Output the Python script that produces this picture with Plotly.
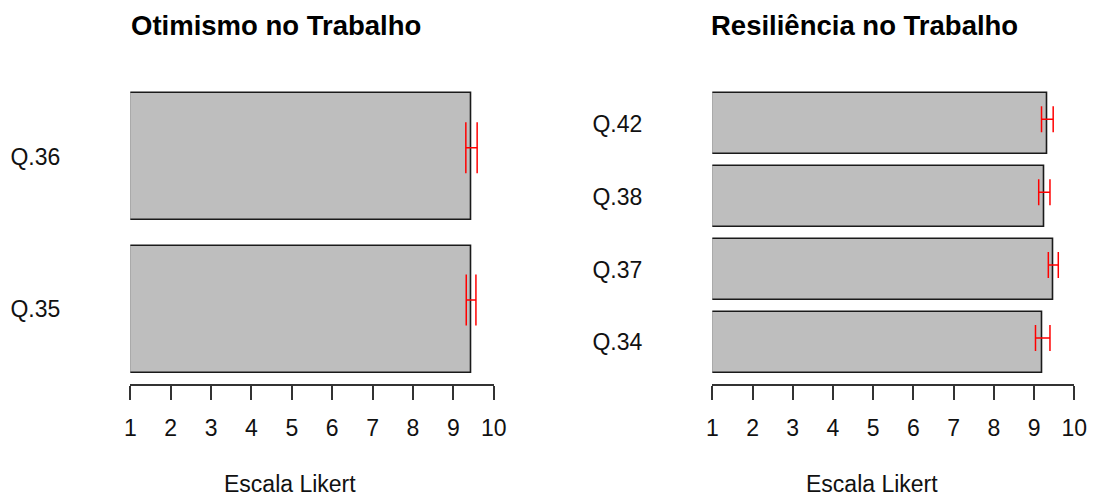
import plotly.graph_objects as go

# Otimismo no Trabalho (bottom to top)
otim_items = ["Q.35", "Q.36"]
otim_mean = [9.44, 9.45]
otim_err = [0.12, 0.14]

# Resiliência no Trabalho (bottom to top)
resil_items = ["Q.34", "Q.37", "Q.38", "Q.42"]
resil_mean = [9.215, 9.478, 9.255, 9.33]
resil_err = [0.18, 0.124, 0.14, 0.145]

likert_ticks = list(range(1, 11))

FONT = "Liberation Sans, Arial, sans-serif"
BAR_FILL = "#bebebe"
BAR_EDGE = "#1a1a1a"
ERR_COLOR = "#ff0000"
W, H = 1094, 498


def bar_positions(n):
    # barplot layout: width 1, space 0.2
    return [0.7 + 1.2 * i for i in range(n)]


def px_x(p):
    return p / W


def px_y(p):
    return 1 - p / H


fig = go.Figure()

panels = [
    (otim_items, otim_mean, otim_err, "x", "y", 25.5),
    (resil_items, resil_mean, resil_err, "x2", "y2", 13),
]

for items, means, errs, xa, ya, capw in panels:
    pos = bar_positions(len(items))
    fig.add_trace(go.Bar(
        y=pos, x=[m - 1 for m in means], base=1, orientation="h", width=1,
        marker=dict(color=BAR_FILL, line=dict(color=BAR_EDGE, width=1.6)),
        xaxis=xa, yaxis=ya, showlegend=False, hoverinfo="skip",
    ))
    fig.add_trace(go.Scatter(
        x=means, y=[p + 0.072 for p in pos], mode="markers",
        marker=dict(size=0.1, color=ERR_COLOR, opacity=0),
        error_x=dict(type="data", array=errs, symmetric=True,
                     color=ERR_COLOR, thickness=1.5, width=capw),
        xaxis=xa, yaxis=ya, showlegend=False, hoverinfo="skip",
    ))

xaxis_common = dict(
    range=[1, 10], tickmode="array", tickvals=likert_ticks,
    ticktext=[str(t) for t in likert_ticks],
    showgrid=False, zeroline=False, showline=True, linecolor="#333333",
    linewidth=1.5, ticks="outside", ticklen=14, tickwidth=1.5,
    tickcolor="#333333", tickfont=dict(family=FONT, size=23, color="#111111"),
    ticklabelstandoff=9, automargin=False,
)
yaxis_common = dict(
    showgrid=False, zeroline=False, showline=False, ticks="",
    tickfont=dict(family=FONT, size=23, color="#111111"),
    ticklabelstandoff=69, automargin=False,
)

ydom = [px_y(383.9), px_y(82.1)]

fig.update_layout(
    width=W, height=H,
    margin=dict(l=0, r=0, t=0, b=0, autoexpand=False),
    paper_bgcolor="white", plot_bgcolor="white",
    font=dict(family=FONT, color="#111111"),
    xaxis=dict(xaxis_common, domain=[px_x(130.3), px_x(493.7)], anchor="y"),
    xaxis2=dict(xaxis_common, domain=[px_x(712.3), px_x(1074.3)], anchor="y2"),
    yaxis=dict(yaxis_common, domain=ydom, anchor="x", range=[0.112, 2.488],
               tickmode="array", tickvals=bar_positions(len(otim_items)),
               ticktext=otim_items),
    yaxis2=dict(yaxis_common, domain=ydom, anchor="x2", range=[0.016, 4.984],
                tickmode="array", tickvals=bar_positions(len(resil_items)),
                ticktext=resil_items),
    bargap=0,
)

titles = [("Otimismo no Trabalho", 276), ("Resiliência no Trabalho", 864.7)]
for text, cx in titles:
    fig.add_annotation(
        text="<b>%s</b>" % text, xref="paper", yref="paper",
        x=px_x(cx), y=px_y(25.5), xanchor="center", yanchor="middle",
        showarrow=False, font=dict(family=FONT, size=27.5, color="#000000"),
    )

for cx in (290, 872.2):
    fig.add_annotation(
        text="Escala Likert", xref="paper", yref="paper",
        x=px_x(cx), y=px_y(484), xanchor="center", yanchor="middle",
        showarrow=False, font=dict(family=FONT, size=23, color="#111111"),
    )

fig.write_html("out.html")
